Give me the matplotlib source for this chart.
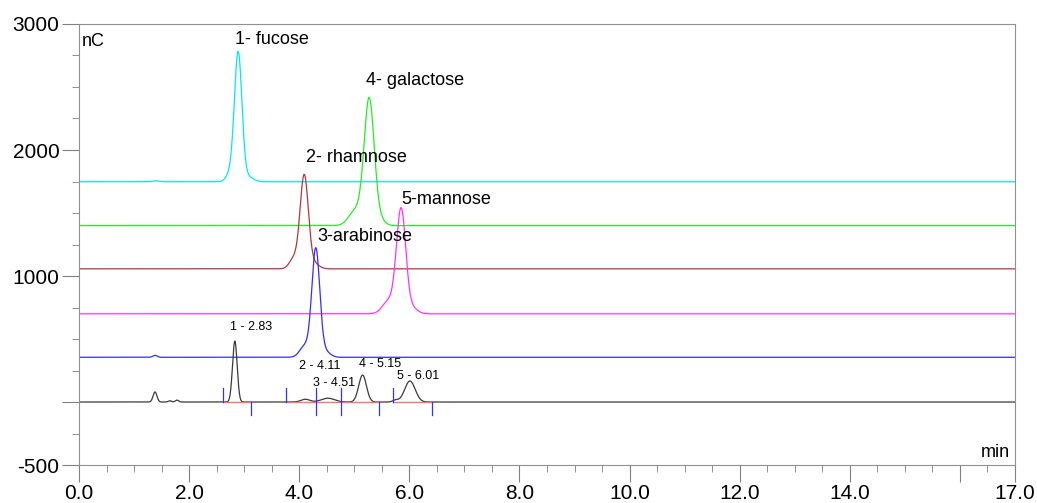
import numpy as np
import matplotlib.pyplot as plt
from matplotlib.ticker import MultipleLocator, FixedLocator

plt.rcParams['font.family'] = ['Liberation Sans', 'DejaVu Sans']

# peak tables: (retention time [min], height [nC], width [min])
traces = {
    'fucose':    dict(color='#00e8f0', base=1748,
                      peaks=[(2.89, 1020, 0.068), (2.74, 60, 0.07), (3.06, 40, 0.10), (1.40, 8, 0.05)]),
    'galactose': dict(color='#22ee22', base=1400,
                      peaks=[(5.27, 1000, 0.092), (5.02, 120, 0.12), (5.47, 40, 0.09)]),
    'rhamnose':  dict(color='#b03a3a', base=1057,
                      peaks=[(4.09, 740, 0.075), (3.90, 80, 0.08), (4.27, 40, 0.09)]),
    'mannose':   dict(color='#ff33ff', base=700,
                      peaks=[(5.85, 830, 0.085), (5.62, 100, 0.11), (6.07, 40, 0.09)]),
    'arabinose': dict(color='#2f2fff', base=355,
                      peaks=[(4.30, 855, 0.072), (4.10, 90, 0.09), (4.47, 45, 0.09), (1.38, 15, 0.04)]),
    'sample':    dict(color='#3a3a3a', base=0,
                      peaks=[(1.38, 80, 0.035), (1.65, 10, 0.03), (1.78, 15, 0.03), (2.83, 484, 0.042),
                             (4.11, 22, 0.08), (4.52, 30, 0.12), (5.15, 214, 0.07),
                             (5.75, 15, 0.05), (6.01, 167, 0.095)]),
}

# standard names and label positions (time, nC)
std_labels = ['1- fucose', '4- galactose', '2- rhamnose', '5-mannose', '3-arabinose']
std_label_x = [3.51, 6.10, 5.03, 6.67, 5.19]
std_label_y = [2873, 2548, 1937, 1611, 1310]

# sample peak labels
peak_labels = ['1 - 2.83', '2 - 4.11', '3 - 4.51', '4 - 5.15', '5 - 6.01']
peak_label_x = [3.12, 4.38, 4.63, 5.47, 6.16]
peak_label_y = [595, 286, 151, 302, 206]

# integration marks on the sample trace
mark_t = [2.62, 3.13, 3.76, 4.30, 4.75, 5.45, 5.71, 6.42]
mark_kind = ['up', 'down', 'up', 'both', 'both', 'down', 'up', 'down']
baseline_segs = [(2.62, 3.13), (3.76, 5.45), (5.71, 6.42)]

t = np.linspace(0, 17, 4000)

fig = plt.figure(figsize=(10.37, 5.03), dpi=100)
ax = fig.add_axes([0.0762, 0.0755, 0.9026, 0.8768])

for name, tr in traces.items():
    y = np.full_like(t, tr['base'], dtype=float)
    for rt, h, w in tr['peaks']:
        y += h * np.exp(-0.5 * ((t - rt) / w) ** 2)
    ax.plot(t, y, color=tr['color'], lw=0.9)

for a, b in baseline_segs:
    ax.plot([a, b], [0, 0], color='#ff7070', lw=1.0)
for m, k in zip(mark_t, mark_kind):
    lo = -100 if k in ('down', 'both') else 0
    hi = 110 if k in ('up', 'both') else 0
    ax.plot([m, m], [lo, hi], color='#3030ff', lw=0.9)

for s, x, y in zip(std_labels, std_label_x, std_label_y):
    ax.text(x, y, s, ha='center', va='center', fontsize=13)
for s, x, y in zip(peak_labels, peak_label_x, peak_label_y):
    ax.text(x, y, s, ha='center', va='center', fontsize=9)

ax.text(0.05, 2930, 'nC', ha='left', va='top', fontsize=13)
ax.text(16.9, -397, 'min', ha='right', va='center', fontsize=13)

ax.set_xlim(0, 17)
ax.set_ylim(-500, 3000)

ax.xaxis.set_major_locator(FixedLocator([0, 2, 4, 6, 8, 10, 12, 14, 16, 17]))
ax.set_xticklabels(['0.0', '2.0', '4.0', '6.0', '8.0', '10.0', '12.0', '14.0', '', '17.0'])
ax.xaxis.set_minor_locator(MultipleLocator(0.5))
ax.yaxis.set_major_locator(FixedLocator([-500, 0, 1000, 2000, 3000]))
ax.set_yticklabels(['-500', '', '1000', '2000', '3000'])
ax.yaxis.set_minor_locator(MultipleLocator(250))

for sp in ax.spines.values():
    sp.set_color('#909090')
ax.tick_params(which='major', length=12, color='#808080', labelsize=15, pad=2)
ax.tick_params(which='minor', length=5, color='#808080')

fig.savefig('out.png', dpi=100)
